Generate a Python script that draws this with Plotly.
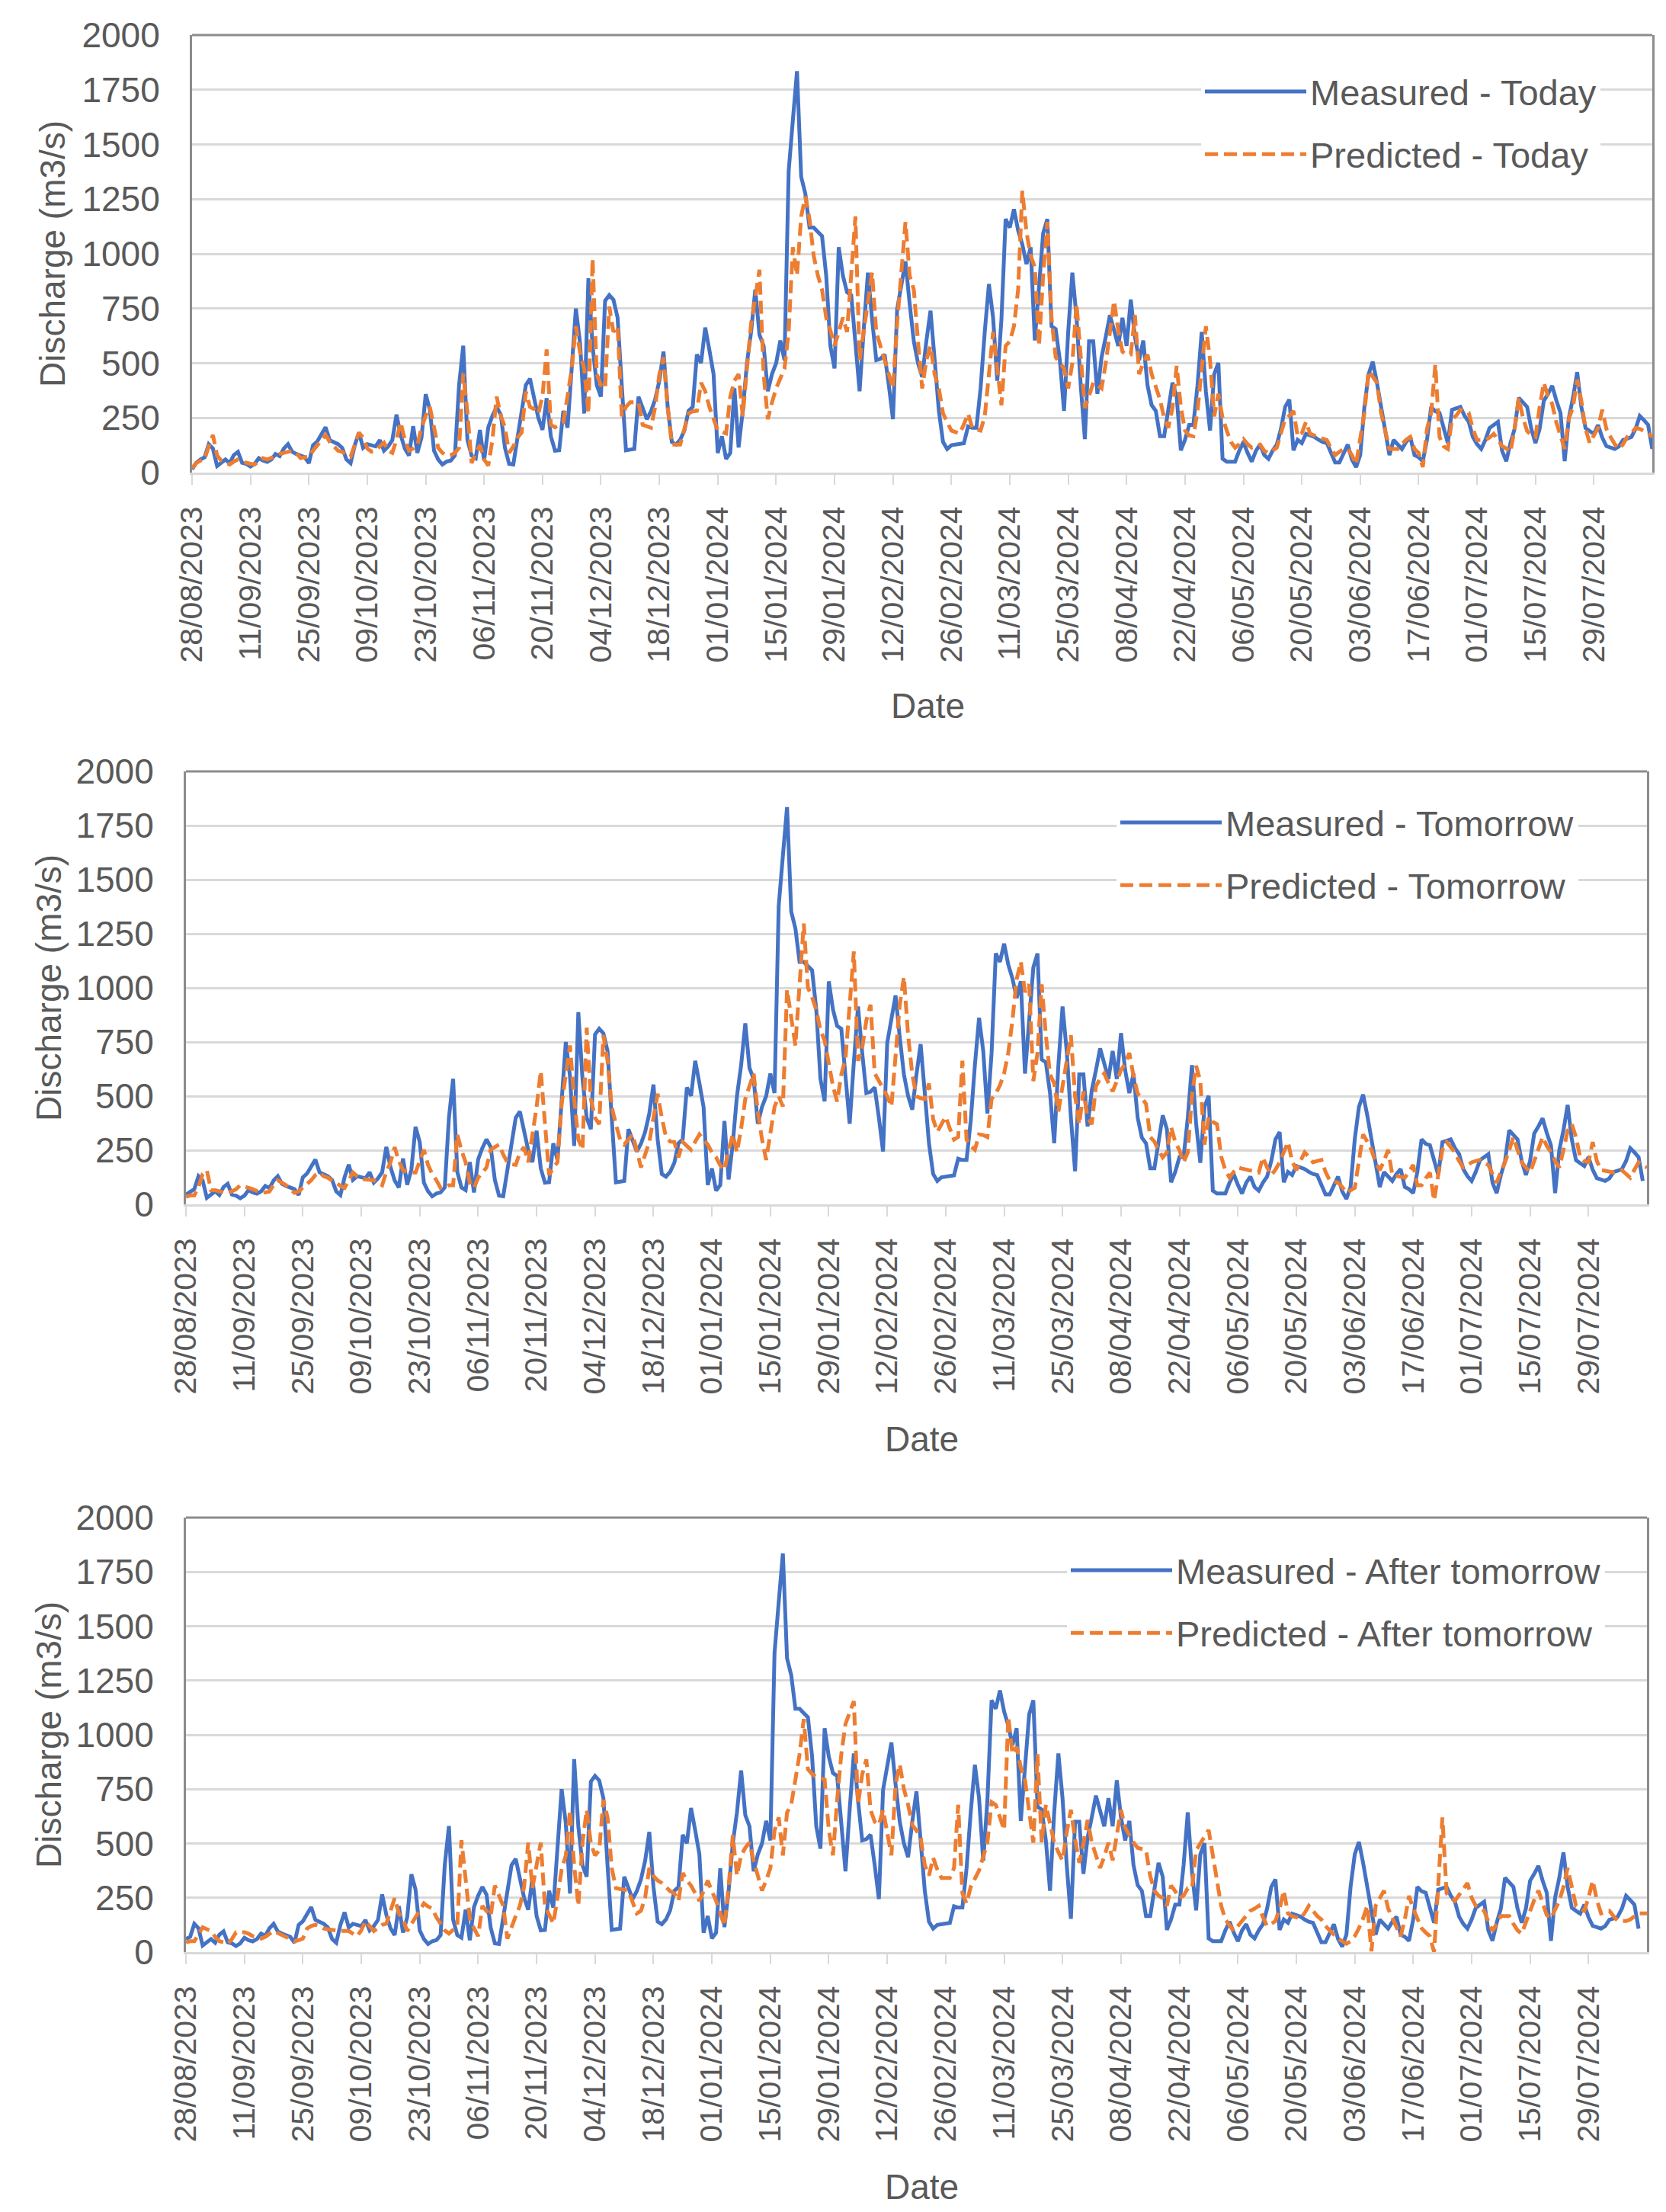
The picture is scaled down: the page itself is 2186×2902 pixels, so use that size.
import pandas as pd
import plotly.graph_objects as go

start_date = "2023-08-28"
end_date = "2024-08-12"

tick_labels = ["28/08/2023", "11/09/2023", "25/09/2023", "09/10/2023", "23/10/2023",
               "06/11/2023", "20/11/2023", "04/12/2023", "18/12/2023", "01/01/2024",
               "15/01/2024", "29/01/2024", "12/02/2024", "26/02/2024", "11/03/2024",
               "25/03/2024", "08/04/2024", "22/04/2024", "06/05/2024", "20/05/2024",
               "03/06/2024", "17/06/2024", "01/07/2024", "15/07/2024", "29/07/2024"]

# daily discharge (m3/s), one value per day from 28/08/2023
measured = [
    15, 45, 60, 70, 130, 110, 30, 45, 60, 43,
    80, 95, 45, 40, 28, 40, 66, 55, 49, 60,
    85, 75, 110, 130, 95, 85, 78, 70, 43, 125,
    142, 175, 207, 148, 140, 130, 113, 60, 43, 125,
    183, 113, 130, 125, 120, 148, 100, 120, 148, 265,
    172, 110, 78, 212, 90, 160, 358, 288, 100, 60,
    37, 50, 55, 78, 400, 580, 150, 78, 66, 195,
    55, 207, 260, 300, 265, 113, 40, 37, 160, 300,
    400, 429, 347, 250, 195, 340, 166, 100, 102, 282,
    205, 500, 750, 592, 270, 888, 579, 400, 347, 785,
    811, 790, 708, 398, 102, 105, 108, 347, 300, 244,
    280, 334, 420, 553, 300, 140, 128, 150, 192, 282,
    300, 540, 501, 663, 560, 450, 89, 166, 63, 89,
    385, 115, 282, 500, 643, 836, 630, 579, 372, 450,
    500, 604, 514, 1378, 1610, 1835, 1352, 1275, 1120, 1120,
    1100, 1081, 900, 579, 476, 1030, 900, 824, 811, 600,
    372, 656, 914, 700, 514, 520, 540, 400, 244, 746,
    850, 965, 772, 600, 500, 437, 600, 740, 514, 282,
    140, 108, 125, 128, 128, 134, 211, 205, 205, 385,
    643, 862, 708, 420, 700, 1159, 1120, 1204, 1107, 1043,
    953, 1030, 604, 875, 1094, 1159, 669, 656, 514, 282,
    643, 914, 708, 400, 153, 600, 600, 360, 527, 620,
    720, 650, 579, 708, 579, 791, 620, 514, 604, 400,
    308, 282, 166, 166, 300, 411, 347, 102, 150, 218,
    218, 400, 643, 372, 192, 450, 501, 63, 50, 50,
    50, 100, 140, 90, 50, 100, 128, 80, 63, 100,
    128, 200, 300, 334, 102, 150, 135, 177, 170, 163,
    150, 140, 135, 90, 46, 46, 90, 128, 60, 25,
    80, 300, 450, 507, 411, 300, 200, 80, 149, 130,
    108, 140, 163, 80, 70, 52, 150, 300, 280, 273,
    200, 135, 287, 295, 300, 260, 232, 163, 130, 108,
    150, 204, 220, 232, 100, 52, 135, 200, 342, 320,
    300, 200, 135, 200, 328, 360, 397, 330, 273, 52,
    250, 342, 459, 300, 204, 190, 177, 218, 160, 121,
    115, 108, 120, 149, 155, 163, 200, 259, 240, 218,
    108,
]

predicted_today = [
    20, 43, 55, 60, 120, 172, 78, 55, 45, 37,
    50, 60, 55, 45, 40, 37, 50, 66, 60, 66,
    75, 85, 90, 95, 100, 90, 66, 70, 72, 100,
    125, 150, 172, 140, 119, 100, 95, 80, 72, 130,
    183, 160, 110, 96, 100, 120, 137, 100, 90, 150,
    230, 148, 100, 110, 125, 207, 260, 300, 200, 113,
    90, 78, 80, 90, 113, 452, 277, 43, 90, 125,
    60, 32, 150, 347, 260, 207, 90, 120, 160, 183,
    370, 300, 290, 270, 350, 563, 218, 207, 218, 230,
    350, 476, 669, 550, 476, 270, 978, 450, 400, 385,
    759, 643, 669, 257, 300, 321, 321, 321, 218, 210,
    205, 300, 450, 527, 300, 128, 128, 128, 200, 270,
    280, 282, 411, 372, 300, 244, 192, 185, 179, 347,
    420, 450, 257, 476, 682, 800, 927, 450, 244, 321,
    385, 430, 476, 643, 1030, 901, 1171, 1262, 1159, 991,
    901, 836, 708, 650, 579, 643, 708, 643, 900, 1171,
    514, 643, 800, 914, 643, 580, 514, 450, 385, 682,
    900, 1146, 900, 836, 600, 385, 514, 579, 450, 385,
    270, 230, 192, 185, 179, 220, 270, 205, 200, 192,
    257, 450, 643, 476, 308, 579, 600, 669, 836, 1288,
    1100, 991, 940, 579, 901, 1146, 708, 527, 500, 476,
    385, 501, 772, 514, 295, 350, 411, 400, 385, 500,
    643, 785, 650, 553, 540, 540, 720, 450, 500, 540,
    450, 385, 334, 250, 205, 295, 488, 300, 192, 170,
    166, 282, 500, 669, 514, 257, 360, 250, 192, 140,
    114, 130, 153, 130, 114, 120, 128, 100, 89, 100,
    114, 180, 244, 260, 282, 166, 180, 232, 177, 170,
    160, 155, 149, 110, 80, 95, 108, 108, 80, 38,
    150, 273, 466, 440, 411, 273, 180, 108, 108, 108,
    130, 150, 163, 108, 90, 25, 200, 273, 494, 163,
    120, 108, 245, 260, 287, 280, 273, 200, 149, 149,
    149, 160, 177, 150, 121, 110, 94, 200, 342, 250,
    190, 170, 163, 300, 411, 350, 314, 230, 163, 108,
    245, 300, 425, 328, 200, 135, 170, 204, 287, 200,
    163, 130, 108, 130, 163, 180, 204, 200, 190, 180,
    163,
]

predicted_tomorrow = [
    35, 41, 41, 80, 140, 158, 65, 65, 60, 55,
    53, 60, 70, 88, 80, 76, 70, 60, 53, 55,
    59, 90, 111, 100, 88, 70, 53, 60, 76, 95,
    111, 135, 147, 130, 123, 110, 100, 85, 76, 110,
    147, 130, 117, 115, 111, 111, 100, 88, 150, 194,
    264, 200, 158, 150, 147, 147, 200, 252, 182, 140,
    111, 76, 80, 88, 88, 323, 250, 194, 100, 76,
    123, 150, 170, 252, 265, 276, 230, 194, 185, 182,
    240, 264, 194, 311, 450, 616, 370, 135, 170, 194,
    464, 600, 734, 487, 300, 252, 816, 487, 400, 370,
    781, 663, 450, 370, 300, 276, 300, 323, 250, 170,
    230, 288, 400, 511, 400, 311, 290, 288, 217, 288,
    270, 252, 290, 323, 300, 276, 240, 217, 180, 158,
    250, 323, 240, 350, 487, 550, 605, 428, 300, 205,
    323, 450, 499, 452, 992, 850, 734, 1016, 1297, 1000,
    957, 898, 804, 757, 650, 546, 475, 600, 675, 898,
    1168, 663, 722, 850, 922, 605, 570, 534, 500, 452,
    700, 922, 1051, 781, 600, 499, 490, 487, 558, 393,
    335, 370, 405, 350, 299, 311, 663, 299, 270, 252,
    323, 320, 311, 487, 511, 550, 605, 700, 851, 1039,
    1121, 980, 1016, 569, 700, 1016, 781, 600, 558, 428,
    550, 687, 781, 500, 370, 522, 400, 370, 546, 580,
    605, 560, 522, 569, 620, 650, 699, 593, 511, 490,
    464, 311, 290, 250, 217, 240, 358, 288, 250, 194,
    240, 500, 640, 569, 276, 405, 380, 370, 220, 158,
    123, 150, 170, 165, 160, 158, 150, 147, 217, 170,
    135, 160, 194, 240, 288, 200, 158, 200, 240, 220,
    194, 200, 205, 150, 111, 105, 100, 80, 53, 65,
    76, 200, 323, 290, 252, 194, 158, 200, 252, 135,
    130, 125, 123, 150, 182, 88, 88, 120, 147, 18,
    150, 252, 288, 265, 240, 200, 170, 180, 194, 200,
    205, 190, 182, 140, 100, 150, 194, 250, 311, 250,
    194, 170, 147, 200, 250, 311, 270, 240, 200, 170,
    250, 340, 370, 311, 217, 200, 194, 288, 200, 158,
    155, 150, 147, 150, 158, 140, 123, 160, 194, 180,
    170,
]

predicted_after_tomorrow = [
    45, 50, 50, 80, 114, 105, 97, 70, 50, 45,
    38, 60, 91, 91, 91, 85, 73, 68, 62, 70,
    85, 97, 88, 79, 70, 60, 50, 55, 62, 108,
    120, 126, 120, 108, 105, 100, 97, 97, 97, 97,
    85, 73, 100, 143, 120, 97, 110, 125, 131, 190,
    248, 178, 150, 97, 130, 155, 190, 224, 210, 201,
    160, 131, 100, 85, 100, 120, 515, 329, 155, 110,
    73, 213, 190, 166, 306, 260, 213, 62, 120, 166,
    213, 300, 504, 294, 400, 504, 213, 170, 131, 250,
    380, 445, 655, 400, 213, 504, 655, 500, 445, 469,
    701, 620, 387, 294, 290, 285, 283, 230, 178, 190,
    250, 387, 350, 330, 318, 300, 280, 271, 236, 364,
    330, 306, 270, 236, 280, 329, 280, 236, 180, 120,
    300, 538, 352, 445, 480, 504, 420, 352, 283, 330,
    387, 560, 620, 445, 643, 678, 800, 911, 1073, 841,
    820, 806, 800, 794, 562, 445, 700, 911, 1050, 1100,
    1155, 678, 818, 887, 655, 600, 585, 655, 550, 445,
    771, 864, 750, 678, 585, 560, 527, 400, 352, 434,
    380, 341, 341, 341, 387, 678, 271, 224, 300, 341,
    376, 440, 504, 690, 678, 620, 562, 1085, 911, 945,
    850, 794, 650, 504, 911, 504, 678, 600, 504, 460,
    422, 550, 655, 520, 411, 500, 608, 504, 440, 387,
    440, 504, 422, 540, 655, 573, 540, 504, 480, 475,
    469, 350, 283, 260, 248, 213, 306, 280, 248, 260,
    294, 294, 469, 500, 530, 562, 445, 330, 213, 150,
    120, 97, 120, 143, 170, 190, 200, 213, 160, 120,
    130, 143, 200, 283, 178, 165, 160, 155, 180, 213,
    190, 166, 150, 120, 100, 80, 62, 50, 38, 50,
    73, 110, 155, 213, 3, 213, 250, 283, 200, 155,
    110, 73, 150, 259, 200, 155, 110, 90, 73, 0,
    329, 620, 271, 250, 236, 260, 290, 318, 250, 213,
    200, 190, 140, 97, 130, 166, 166, 166, 130, 100,
    85, 140, 190, 240, 283, 220, 170, 155, 200, 236,
    300, 387, 300, 213, 200, 190, 250, 329, 240, 178,
    185, 190, 165, 143, 143, 143, 150, 165, 178, 178,
    178,
]

dates = pd.date_range(start_date, periods=len(measured), freq="D")
tick_dates = pd.to_datetime(tick_labels, format="%d/%m/%Y")

BLUE = "#4472C4"
ORANGE = "#ED7D31"
GRID = "#D9D9D9"
BORDER = "#8C8C8C"
TEXT = "#595959"
FONT = "Liberation Sans, Arial, sans-serif"

W, H = 2186, 2902

# panel boxes in pixels: left, right, top, bottom
panels = [
    (244, 2160, 38, 612),
    (236, 2153, 1004, 1572),
    (236, 2153, 1983, 2553),
]
# measured series shifted by the forecast lead (0, 1, 2 days)
series = [
    ("Today", 0, predicted_today),
    ("Tomorrow", 1, predicted_tomorrow),
    ("After tomorrow", 2, predicted_after_tomorrow),
]
legend_pos = [(1573, 108), (1462, 1067), (1397, 2048)]
ytitle_x = [61, 56, 56]
xtitle_y = [918, 1880, 2861]

fig = go.Figure()
layout = dict(
    width=W, height=H,
    margin=dict(l=0, r=0, t=0, b=0, autoexpand=False),
    paper_bgcolor="white", plot_bgcolor="white",
    font=dict(family=FONT, size=43, color=TEXT),
    showlegend=True,
)
annotations = []
shapes = []

for i, ((x0, x1, y0, y1), (name, lead, pred)) in enumerate(zip(panels, series)):
    n = i + 1
    sfx = "" if n == 1 else str(n)
    leg = "legend" if n == 1 else "legend%d" % n
    m_vals = measured[lead:]
    m_dates = dates[:len(m_vals)]
    fig.add_trace(go.Scatter(
        x=m_dates, y=m_vals, mode="lines", name="Measured - " + name,
        line=dict(color=BLUE, width=5), xaxis="x" + sfx, yaxis="y" + sfx,
        legend=leg, legendgroup="m%d" % n,
    ))
    fig.add_trace(go.Scatter(
        x=dates, y=pred, mode="lines", name="Predicted - " + name,
        line=dict(color=ORANGE, width=5, dash="17px,8px"), xaxis="x" + sfx, yaxis="y" + sfx,
        legend=leg, legendgroup="p%d" % n,
    ))

    layout["xaxis" + sfx] = dict(
        domain=[x0 / W, x1 / W], anchor="y" + sfx, type="date",
        range=[start_date, end_date], automargin=False,
        tickvals=tick_dates, ticktext=tick_labels, tickangle=-90,
        tickfont=dict(size=41, color=TEXT),
        showgrid=False, zeroline=False,
        showline=True, linecolor=GRID, linewidth=3,
        ticks="outside", ticklen=13, tickwidth=2, tickcolor=GRID,
        ticklabelstandoff=12,
    )
    layout["yaxis" + sfx] = dict(
        domain=[1 - y1 / H, 1 - y0 / H], anchor="x" + sfx,
        range=[0, 2000], dtick=250, tick0=0, automargin=False,
        tickfont=dict(size=46, color=TEXT),
        showgrid=True, gridcolor=GRID, gridwidth=2.5, zeroline=False,
        showline=True, mirror=True, linecolor=BORDER, linewidth=3,
        ticks="", ticklabelstandoff=30,
    )
    lx, ly = legend_pos[i]
    layout[leg] = dict(
        x=(lx - 5) / W, y=1 - (ly - 33) / H, xanchor="left", yanchor="top",
        bgcolor="white", borderwidth=0, itemwidth=133,
        traceorder="grouped", tracegroupgap=18,
        font=dict(family=FONT, size=47, color=TEXT),
    )
    shapes.append(dict(
        type="line", xref="x%s domain" % sfx, yref="y%s domain" % sfx,
        x0=0, x1=1, y0=1, y1=1, line=dict(color=BORDER, width=3),
    ))
    annotations.append(dict(
        text="Discharge (m3/s)", textangle=-90, showarrow=False,
        xref="paper", yref="paper", x=ytitle_x[i] / W, y=1 - (y0 + y1) / 2 / H,
        xanchor="center", yanchor="middle", font=dict(size=46, color=TEXT),
    ))
    annotations.append(dict(
        text="Date", showarrow=False, xref="paper", yref="paper",
        x=((x0 + x1) / 2 + 7) / W, y=1 - xtitle_y[i] / H,
        xanchor="center", yanchor="middle", font=dict(size=46, color=TEXT),
    ))

layout["annotations"] = annotations
layout["shapes"] = shapes
fig.update_layout(**layout)

fig.write_html("out.html")
